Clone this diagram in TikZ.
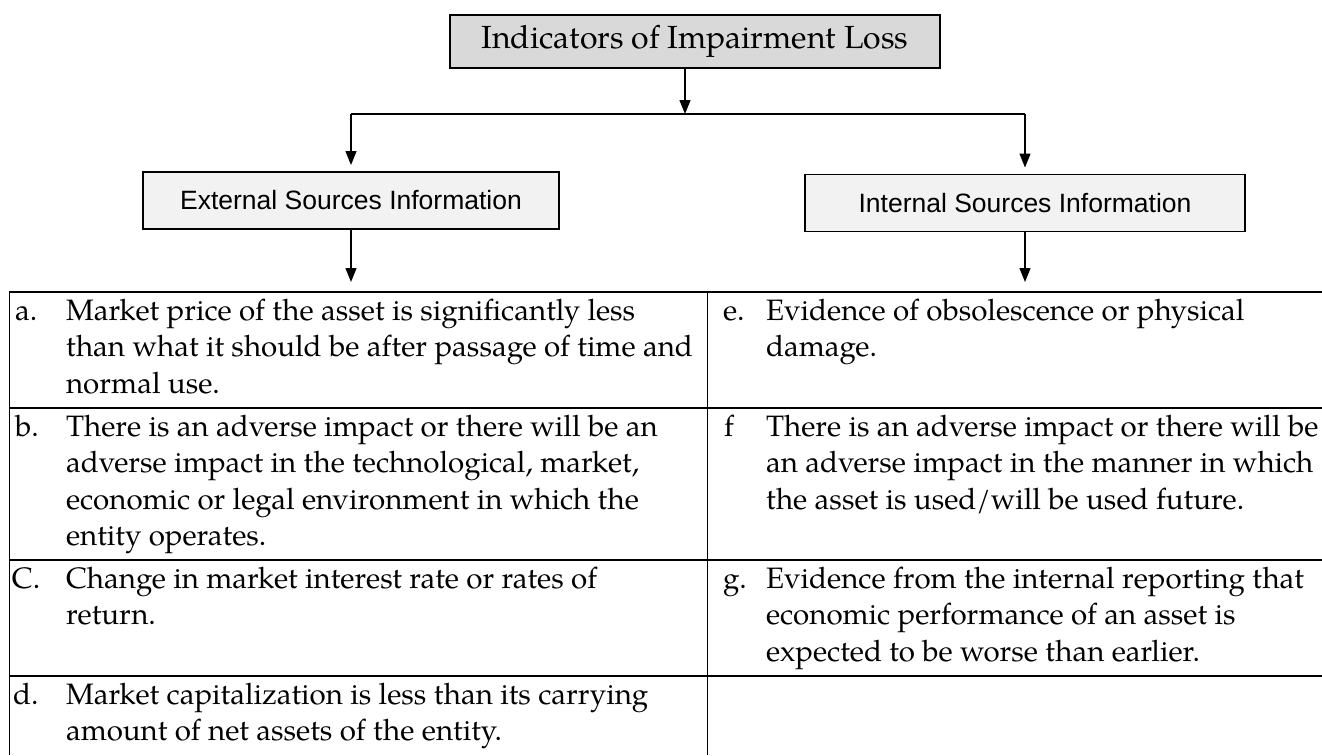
\documentclass[tikz,border=0pt]{standalone}
\usepackage{fontspec}
\setmainfont{TeX Gyre Pagella}
\newfontfamily\boxsans{Liberation Sans}
\usetikzlibrary{arrows.meta}

\definecolor{titlefill}{HTML}{D9D9D9}
\definecolor{subfill}{HTML}{F2F2F2}

% one table cell: lines stacked, baseline on the first line
\newcommand\celltext[1]{\begin{tabular}[t]{@{}l@{}}#1\end{tabular}}

\begin{document}
\begin{tikzpicture}[x=1pt,y=-1pt,
  every node/.style={inner sep=0pt,outer sep=0pt},
  titlebox/.style={draw=black,line width=1.3pt,fill=titlefill,
    minimum width=490pt,minimum height=53pt,
    font=\fontsize{32}{38}\selectfont},
  sourcebox/.style={draw=black,line width=1.2pt,fill=subfill,
    minimum height=57pt,font=\boxsans\fontsize{26.5}{32}\selectfont},
  arr/.style={line width=1.3pt,-{Triangle[width=11pt,length=14pt]}},
  hrule/.style={line width=1.7pt},
  vrule/.style={line width=1pt},
  tag/.style={anchor=base west,font=\fontsize{29.5}{36.5}\selectfont},
  cell/.style={anchor=base west,font=\fontsize{29.5}{36.5}\selectfont}]

\useasboundingbox (0,0) rectangle (1322,755);

% heading and the two source boxes
\node[titlebox] (title) at (695,41.5) {Indicators of Impairment Loss};
\node[sourcebox,minimum width=416pt] (ext) at (351,200.5) {External Sources Information};
\node[sourcebox,minimum width=440pt] (int) at (1025,203) {Internal Sources Information};

% branching connectors
\coordinate (split) at (685,114);
\coordinate (ttop) at (9,292);
\draw[arr] (title.south -| split) -- (split);
\draw[hrule,line width=1.5pt] (ext.north |- split) -- (int.north |- split);
\draw[arr,shorten >=7pt] (ext.north |- split) -- (ext.north);
\draw[arr,shorten >=7pt] (int.north |- split) -- (int.north);
\draw[arr,shorten >=10pt] (ext.south) -- (ext.south |- ttop);
\draw[arr,shorten >=10pt] (int.south) -- (int.south |- ttop);

% table rules
\draw[hrule] (ttop) -- (1322,292);
\draw[hrule] (9,408) -- (1322,408);
\draw[hrule] (9,560) -- (1322,560);
\draw[hrule] (9,676) -- (1322,676);
\draw[vrule] (ttop) -- (9,755);
\draw[vrule] (707,292) -- (707,755);

% left column: external indicators
\node[tag] (ta) at (15,320) {a.};
\node[cell] (ca) at (66,320) {\celltext{Market price of the asset is significantly less\\
  than what it should be after passage of time and\\ normal use.}};
\node[tag] (tb) at (15,436) {b.};
\node[cell] (cb) at (66,436) {\celltext{There is an adverse impact or there will be an\\
  adverse impact in the technological, market,\\
  economic or legal environment in which the\\ entity operates.}};
\node[tag] (tc) at (12,588) {C.};
\node[cell] (cc) at (66,588) {\celltext{Change in market interest rate or rates of\\ return.}};
\node[tag] (td) at (13,704) {d.};
\node[cell] (cd) at (66,704) {\celltext{Market capitalization is less than its carrying\\
  amount of net assets of the entity.}};

% right column: internal indicators
\node[tag] (te) at (723,320) {e.};
\node[cell] (ce) at (766,320) {\celltext{Evidence of obsolescence or physical\\ damage.}};
\node[tag] (tf) at (724,436) {f};
\node[cell] (cf) at (766,436) {\celltext{There is an adverse impact or there will be\\
  an adverse impact in the manner in which\\
  the asset is used/will be used future.}};
\node[tag] (tg) at (723,588) {g.};
\node[cell] (cg) at (766,588) {\celltext{Evidence from the internal reporting that\\
  economic performance of an asset is\\ expected to be worse than earlier.}};
\end{tikzpicture}
\end{document}
